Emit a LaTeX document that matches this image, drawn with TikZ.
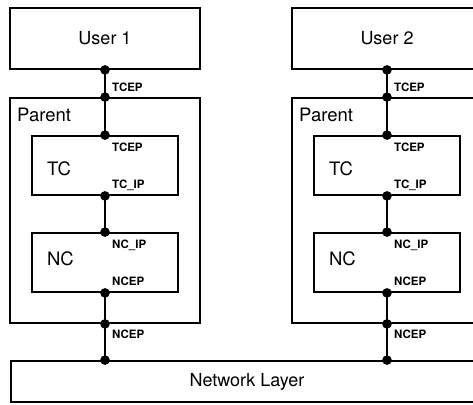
\documentclass[tikz,border=0pt]{standalone}
\usepackage{fontspec}
\setmainfont{TeX Gyre Heros}
\begin{document}
\begin{tikzpicture}[x=1pt,y=-1pt,
  box/.style={draw,line width=1.8pt,inner sep=0pt,font=\fontsize{18}{20}\selectfont},
  title/.style={anchor=base west,inner sep=0pt,font=\fontsize{18.5}{20}\selectfont},
  port/.style={anchor=base west,inner sep=0pt,font=\bfseries\fontsize{11.5}{13}\selectfont},
  wire/.style={line width=1.8pt},
  dotr/.style={radius=4.8}]
\useasboundingbox (0,0) rectangle (473,404);
\clip (0,0) rectangle (473,404);

% shared network layer
\node[box,minimum width=472pt,minimum height=41pt] (net) at (247,381.5) {Network Layer};

% one protocol stack per user
\foreach \i/\x in {1/105,2/387}{
  \node[box,minimum width=190pt,minimum height=61pt] (user\i) at (\x,38.5) {User \i};
  \node[box,minimum width=190pt,minimum height=225pt] (parent\i) at (\x,210.5) {};
  \node[box,minimum width=146pt,minimum height=59pt] (tc\i) at (\x,165.5) {};
  \node[box,minimum width=146pt,minimum height=59pt] (nc\i) at (\x,262.5) {};

  \node[title] (ptxt\i) at (\x-88,121.5) {Parent};
  \node[title] (tctxt\i) at (\x-58,175) {TC};
  \node[title] (nctxt\i) at (\x-58,265) {NC};

  \coordinate (nettop\i) at (parent\i.south |- net.north);

  \draw[wire] (user\i.south) -- (parent\i.north) -- (tc\i.north);
  \draw[wire] (tc\i.south) -- (nc\i.north);
  \draw[wire] (nc\i.south) -- (parent\i.south) -- (nettop\i);

  \foreach \p in {user\i.south,parent\i.north,tc\i.north,tc\i.south,
                  nc\i.north,nc\i.south,parent\i.south,nettop\i}
    \fill (\p) circle[dotr];

  \node[port] (tcepa\i) at (\x+7,91) {TCEP};
  \node[port] (tcepb\i) at (\x+7,151) {TCEP};
  \node[port] (tcip\i) at (\x+7,188) {TC\_IP};
  \node[port] (ncip\i) at (\x+7,248) {NC\_IP};
  \node[port] (ncepa\i) at (\x+7,285.5) {NCEP};
  \node[port] (ncepb\i) at (\x+7,338) {NCEP};
}
\end{tikzpicture}
\end{document}
